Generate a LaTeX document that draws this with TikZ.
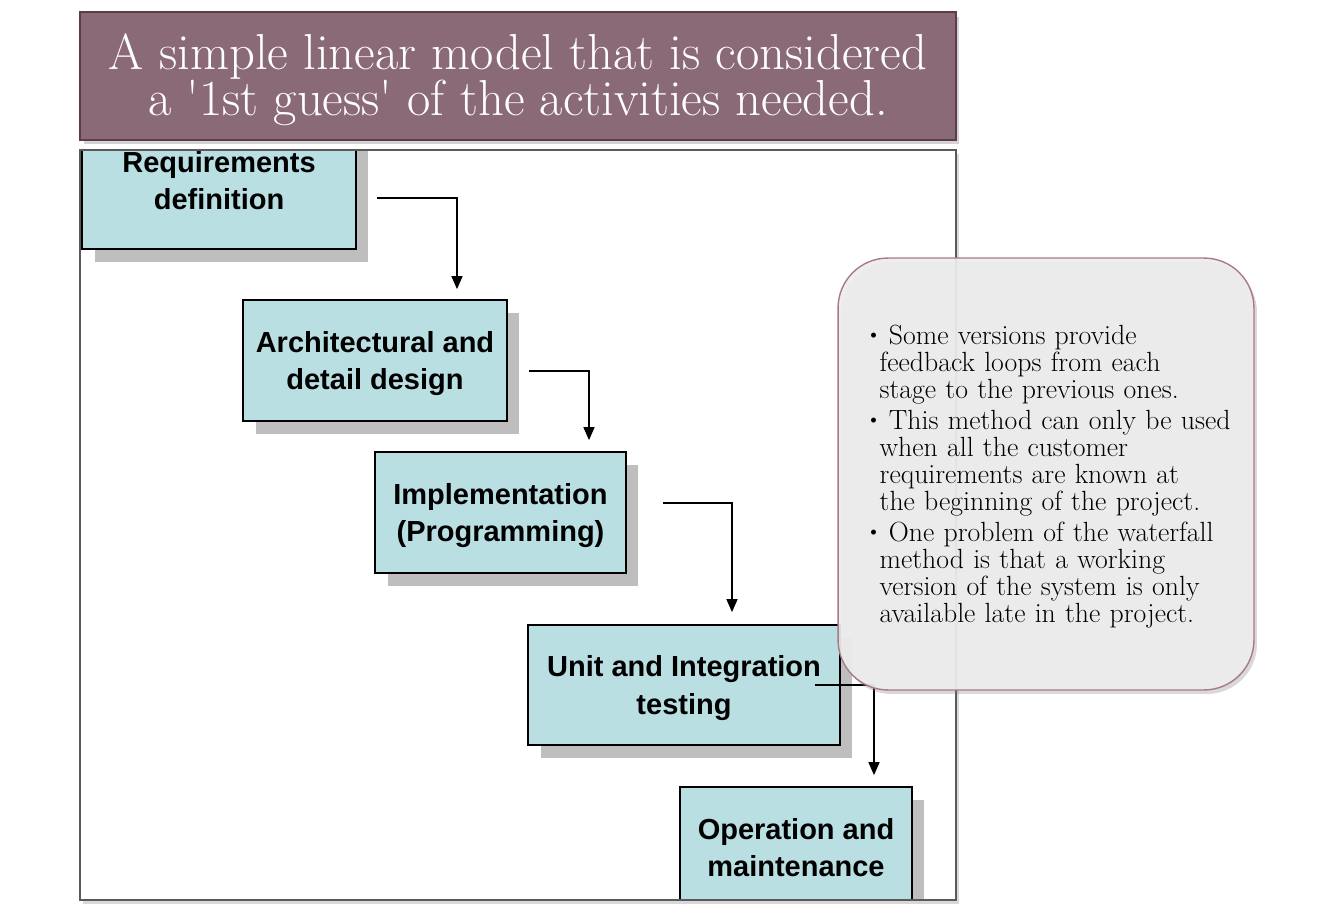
\documentclass[tikz,border=0pt]{standalone}
\usepackage{fontspec}
\usepackage{tikz}
\usetikzlibrary{calc,shadows,arrows.meta}
\newfontfamily\boxfont{Liberation Sans}
\definecolor{titlefill}{HTML}{8B6A78}
\definecolor{titleedge}{HTML}{5C3C4A}
\definecolor{stagefill}{HTML}{B9DFE3}
\definecolor{stageshadow}{HTML}{BEBEBE}
\definecolor{framegrey}{HTML}{5A5A5A}
\definecolor{notefill}{HTML}{EDEDED}
\definecolor{noteedge}{HTML}{A87A88}
\newcommand{\noteitem}{\par\noindent\hangindent=0.28cm\hangafter=1\makebox[0.28cm][l]{\raisebox{0.3ex}{\scalebox{0.8}{\textbullet}}}\ }

\tikzset{
  titlebox/.style={draw=titleedge, line width=1.5pt, fill=titlefill, text=white, align=center,
    minimum width=17.52cm, minimum height=2.56cm, inner sep=0pt, text depth=1.5pt,
    font=\fontsize{28.8}{26.6}\selectfont,
    drop shadow={shadow xshift=0.07cm, shadow yshift=-0.09cm, opacity=0.35}},
  stage/.style={draw=black, line width=1pt, fill=stagefill, align=center, inner sep=0pt,
    text depth=0pt, font=\boxfont\bfseries\fontsize{16.5}{21.3}\selectfont,
    drop shadow={shadow xshift=0.25cm, shadow yshift=-0.26cm, fill=stageshadow, opacity=1}},
  flow/.style={-{Triangle[length=0.26cm,width=0.22cm]}, line width=0.8pt},
}

\begin{document}
\begin{tikzpicture}[x=0.02cm, y=-0.02cm]
\useasboundingbox (0,0) rectangle (1334,919);

% heading
\node[titlebox] (title) at (518,76) {A simple linear model that is considered\\ a \textquotesingle 1st guess\textquotesingle\ of the activities needed.};

% frame of the diagram
\filldraw[draw=framegrey, line width=1.2pt, fill=white,
  drop shadow={shadow xshift=0.06cm, shadow yshift=-0.08cm, opacity=0.3}] (80,150) rectangle (956,900);

\begin{scope}
\clip (80,150) rectangle (956,899);
\node[stage, minimum width=5.48cm, minimum height=2.74cm] (req) at (219,180.5) {Requirements\\ definition};
\node[stage, minimum width=5.28cm, minimum height=2.42cm] (arch) at (375,360.5) {Architectural and\\ detail design};
\node[stage, minimum width=5.02cm, minimum height=2.42cm] (impl) at (500.5,512.5) {Implementation\\ (Programming)};
\node[stage, minimum width=6.24cm, minimum height=2.40cm] (unit) at (684,685) {Unit and Integration\\ testing};
\node[stage, minimum width=4.64cm, minimum height=2.42cm] (oper) at (796,847.5) {Operation and\\ maintenance};
\end{scope}
\draw[framegrey, line width=1.2pt] (80,150) rectangle (956,900);

% arrows between stages
\coordinate (r1) at ($(req.east)+(20,17.5)$);
\coordinate (a1) at ($(arch.north)+(82,-10)$);
\coordinate (r2) at ($(arch.east)+(21,10.5)$);
\coordinate (a2) at ($(impl.north)+(88.5,-11)$);
\coordinate (r3) at ($(impl.east)+(36,-9.5)$);
\coordinate (a3) at ($(unit.north)+(48,-12)$);
\coordinate (r4) at ($(unit.east)+(-26,0)$);
\coordinate (a4) at ($(oper.north)+(78,-11)$);
\draw[flow] (r1) -| (a1);
\draw[flow] (r2) -| (a2);
\draw[flow] (r3) -| (a3);
\draw[flow] (r4) -| (a4);

% note
\node[draw=noteedge, line width=0.8pt, fill=notefill, fill opacity=0.93, rounded corners=1cm,
  minimum width=8.32cm, minimum height=8.64cm,
  drop shadow={shadow xshift=0.06cm, shadow yshift=-0.08cm, opacity=0.3}] (notes) at (1046,474) {};
\node[anchor=west, text width=7.8cm, inner sep=0pt,
  font=\fontsize{15.8}{15.35}\selectfont\setlength{\parskip}{0.08cm}]
  (notestext) at ($(notes.west)+(28,-3)$) {%
\noteitem Some versions provide\newline feedback loops from each\newline stage to the previous ones.
\noteitem This method can only be used\newline when all the customer\newline requirements are known at\newline the beginning of the project.
\noteitem One problem of the waterfall\newline method is that a working\newline version of the system is only\newline available late in the project.\par};
\end{tikzpicture}
\end{document}
